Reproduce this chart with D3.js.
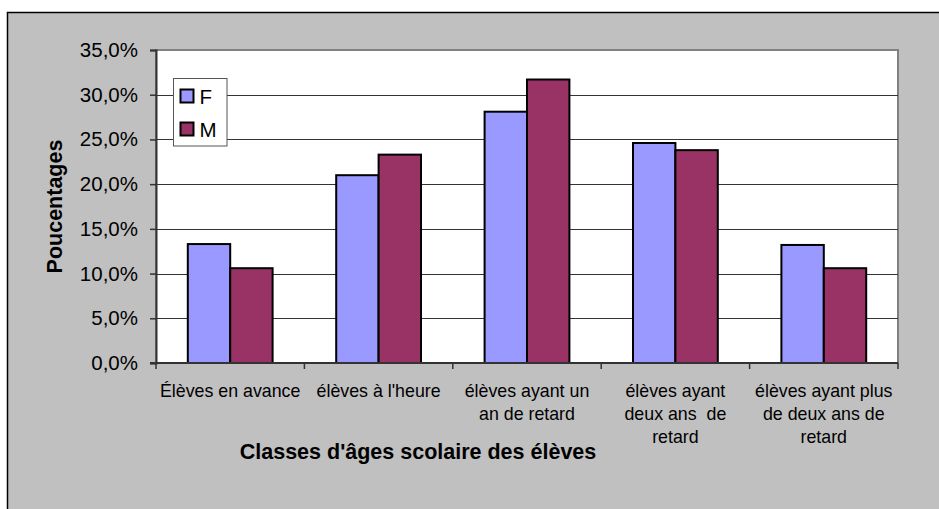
<!DOCTYPE html>
<html>
<head>
<meta charset="utf-8">
<script src="https://cdn.jsdelivr.net/npm/d3@7"></script>
<style>
  html, body { margin: 0; padding: 0; background: #fff; }
  svg { display: block; font-family: "Liberation Sans", Arial, sans-serif; }
</style>
</head>
<body>
<svg id="chart" width="939" height="509"></svg>
<script>
// Categories (school age classes), each label split into lines
const categories = [
  ["Élèves en avance"],
  ["élèves à l'heure"],
  ["élèves ayant un", "an de retard"],
  ["élèves ayant", "deux ans  de", "retard"],
  ["élèves ayant plus", "de deux ans de", "retard"]
];
const seriesNames = ["F", "M"];
const valuesF = [13.3, 21.0, 28.1, 24.6, 13.2];
const valuesM = [10.6, 23.3, 31.7, 23.8, 10.6];
const yTicks = [0, 5, 10, 15, 20, 25, 30, 35];
const colors = ["#9999FF", "#993366"];

const svg = d3.select("#chart");
const W = 939, H = 509;

// Chart area background and frame
svg.append("rect").attr("x", 0).attr("y", 0).attr("width", W).attr("height", H).attr("fill", "#fff");
svg.append("rect").attr("x", 7.5).attr("y", 12.5).attr("width", 1000).attr("height", 1000)
  .attr("fill", "#C0C0C0").attr("stroke", "#000").attr("stroke-width", 1.5);

const plot = { left: 156, top: 50, right: 898, bottom: 363 };

const x0 = d3.scaleBand().domain(d3.range(categories.length))
  .range([plot.left, plot.right]).paddingInner(0).paddingOuter(0);
const barW = x0.bandwidth() / 3.5; // gap width 150%
const y = d3.scaleLinear().domain([0, 35]).range([plot.bottom, plot.top]);

// Plot area
svg.append("rect").attr("x", plot.left).attr("y", plot.top)
  .attr("width", plot.right - plot.left).attr("height", plot.bottom - plot.top)
  .attr("fill", "#fff").attr("stroke", "#808080").attr("stroke-width", 2);

// Gridlines
svg.append("g").selectAll("line").data(yTicks.filter(d => d > 0 && d < 35)).join("line")
  .attr("x1", plot.left).attr("x2", plot.right)
  .attr("y1", d => Math.round(y(d)) + 0.5).attr("y2", d => Math.round(y(d)) + 0.5)
  .attr("stroke", "#333").attr("stroke-width", 1);

// Bars
const data = [];
categories.forEach((c, i) => {
  data.push({ i, s: 0, v: valuesF[i] });
  data.push({ i, s: 1, v: valuesM[i] });
});
svg.append("g").selectAll("rect").data(data).join("rect")
  .attr("x", d => x0(d.i) + x0.bandwidth() / 2 - barW + d.s * barW)
  .attr("y", d => y(d.v))
  .attr("width", barW)
  .attr("height", d => y(0) - y(d.v))
  .attr("fill", d => colors[d.s])
  .attr("stroke", "#000").attr("stroke-width", 2);

// Y axis
const yAxis = d3.axisLeft(y).tickValues(yTicks).tickSize(6).tickPadding(12)
  .tickFormat(d => d3.format(".1f")(d).replace(".", ",") + "%");
const gy = svg.append("g").attr("transform", `translate(${plot.left},0)`).call(yAxis);
gy.select(".domain").attr("stroke", "#333").attr("stroke-width", 2);
gy.selectAll(".tick line").attr("stroke", "#333").attr("stroke-width", 1.5);
gy.selectAll(".tick text").attr("font-size", "20.5px").attr("fill", "#000")
  .attr("font-family", "Liberation Sans, Arial, sans-serif");

// X axis: ticks at category boundaries
const gx = svg.append("g");
gx.append("line").attr("x1", plot.left - 6).attr("x2", plot.right)
  .attr("y1", plot.bottom).attr("y2", plot.bottom).attr("stroke", "#333").attr("stroke-width", 2);
gx.selectAll("line.tk").data(d3.range(categories.length + 1)).join("line").attr("class", "tk")
  .attr("x1", i => plot.left + i * x0.bandwidth()).attr("x2", i => plot.left + i * x0.bandwidth())
  .attr("y1", plot.bottom).attr("y2", plot.bottom + 6)
  .attr("stroke", "#333").attr("stroke-width", 1.5);

// Category labels
const catG = svg.append("g");
categories.forEach((lines, i) => {
  const t = catG.append("text")
    .attr("x", x0(i) + x0.bandwidth() / 2)
    .attr("y", 397)
    .attr("text-anchor", "middle")
    .attr("font-size", "17.8px").attr("fill", "#000");
  lines.forEach((ln, k) => {
    t.append("tspan").attr("x", x0(i) + x0.bandwidth() / 2).attr("y", 397 + k * 23)
      .attr("xml:space", "preserve").text(ln);
  });
});

// Axis titles
svg.append("text").attr("x", 418).attr("y", 459).attr("text-anchor", "middle")
  .attr("font-size", "21.5px").attr("font-weight", "bold").attr("fill", "#000")
  .text("Classes d'âges scolaire des élèves");
svg.append("text").attr("transform", `translate(62,${(plot.top + plot.bottom) / 2}) rotate(-90)`)
  .attr("text-anchor", "middle")
  .attr("font-size", "21.5px").attr("font-weight", "bold").attr("fill", "#000")
  .text("Poucentages");

// Legend
const lg = svg.append("g").attr("transform", "translate(173.5,78.5)");
lg.append("rect").attr("width", 53.5).attr("height", 67.5)
  .attr("fill", "#fff").attr("stroke", "#555").attr("stroke-width", 1);
seriesNames.forEach((name, k) => {
  lg.append("rect").attr("x", 7).attr("y", 11 + k * 33).attr("width", 13).attr("height", 13)
    .attr("fill", colors[k]).attr("stroke", "#000").attr("stroke-width", 2);
  lg.append("text").attr("x", 26).attr("y", 25 + k * 33)
    .attr("font-size", "20.5px").attr("fill", "#000").text(name);
});
</script>
</body>
</html>
